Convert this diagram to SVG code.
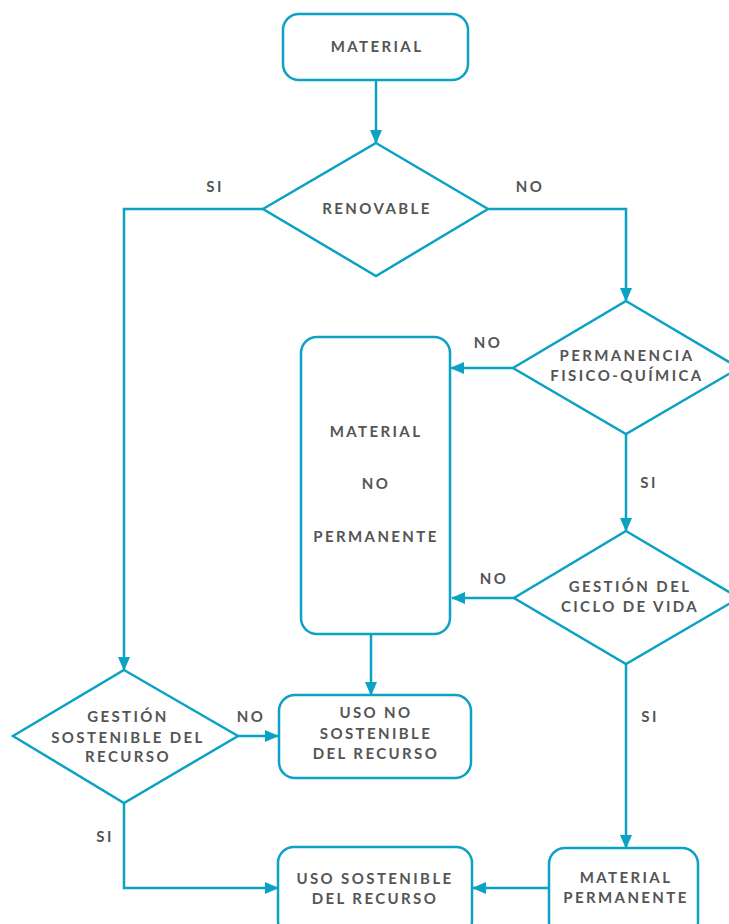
<svg xmlns="http://www.w3.org/2000/svg" width="729" height="924" viewBox="0 0 729 924">
<style>
.n{fill:#fff;stroke:#0ba2c4;stroke-width:2.5}
.c{fill:none;stroke:#0ba2c4;stroke-width:2.5}
text{font-family:Lato,"Liberation Sans",sans-serif;font-weight:700;font-size:15px;letter-spacing:2.4px;fill:#555;text-anchor:middle}
</style>
<defs>
<marker id="a" markerUnits="userSpaceOnUse" markerWidth="14" markerHeight="12" refX="13" refY="6" orient="auto">
<path d="M0,0 L14,6 L0,12 Z" fill="#0ba2c4"/>
</marker>
</defs>
<rect width="729" height="924" fill="#fff"/>
<g id="connectors">
<path class="c" d="M376,80 V143" marker-end="url(#a)"/>
<path class="c" d="M263,209 H124 V670" marker-end="url(#a)"/>
<path class="c" d="M488,209 H626 V301" marker-end="url(#a)"/>
<path class="c" d="M513,368 H451" marker-end="url(#a)"/>
<path class="c" d="M626,434 V531" marker-end="url(#a)"/>
<path class="c" d="M514,598 H452" marker-end="url(#a)"/>
<path class="c" d="M626,664 V848" marker-end="url(#a)"/>
<path class="c" d="M371,634 V695" marker-end="url(#a)"/>
<path class="c" d="M238,736 H278" marker-end="url(#a)"/>
<path class="c" d="M124,803 V888 H278" marker-end="url(#a)"/>
<path class="c" d="M549,888 H473" marker-end="url(#a)"/>
<text x="215" y="192">SI</text>
<text x="530" y="192">NO</text>
<text x="488" y="348">NO</text>
<text x="649" y="488">SI</text>
<text x="494" y="584">NO</text>
<text x="650" y="722">SI</text>
<text x="251" y="722">NO</text>
<text x="105" y="842">SI</text>
</g>
<g id="material">
<rect class="n" x="283" y="14" width="185" height="66" rx="16"/>
<text x="377" y="52">MATERIAL</text>
</g>
<g id="renovable">
<polygon class="n" points="376,143 488,209 376,276 263,209"/>
<text x="377" y="214">RENOVABLE</text>
</g>
<g id="permanencia">
<polygon class="n" points="626,301 739,368 626,434 513,368"/>
<text x="627" y="361">PERMANENCIA</text>
<text x="627" y="381">FISICO-QUÍMICA</text>
</g>
<g id="no-permanente">
<rect class="n" x="301" y="337" width="149" height="297" rx="16"/>
<text x="376" y="437">MATERIAL</text>
<text x="376" y="489">NO</text>
<text x="376" y="542">PERMANENTE</text>
</g>
<g id="ciclo-vida">
<polygon class="n" points="626,531 739,598 626,664 514,598"/>
<text x="630" y="592">GESTIÓN DEL</text>
<text x="630" y="612">CICLO DE VIDA</text>
</g>
<g id="gestion-sostenible">
<polygon class="n" points="124,670 238,736 124,803 13,736"/>
<text x="128" y="722">GESTIÓN</text>
<text x="128" y="743">SOSTENIBLE DEL</text>
<text x="128" y="762">RECURSO</text>
</g>
<g id="uso-no-sostenible">
<rect class="n" x="279" y="695" width="192" height="83" rx="16"/>
<text x="376" y="718">USO NO</text>
<text x="376" y="739">SOSTENIBLE</text>
<text x="376" y="759">DEL RECURSO</text>
</g>
<g id="uso-sostenible">
<rect class="n" x="278" y="847" width="194" height="90" rx="16"/>
<text x="375" y="884">USO SOSTENIBLE</text>
<text x="375" y="904">DEL RECURSO</text>
</g>
<g id="material-permanente">
<rect class="n" x="549" y="848" width="149" height="90" rx="16"/>
<text x="626" y="883">MATERIAL</text>
<text x="626" y="903">PERMANENTE</text>
</g>
</svg>
